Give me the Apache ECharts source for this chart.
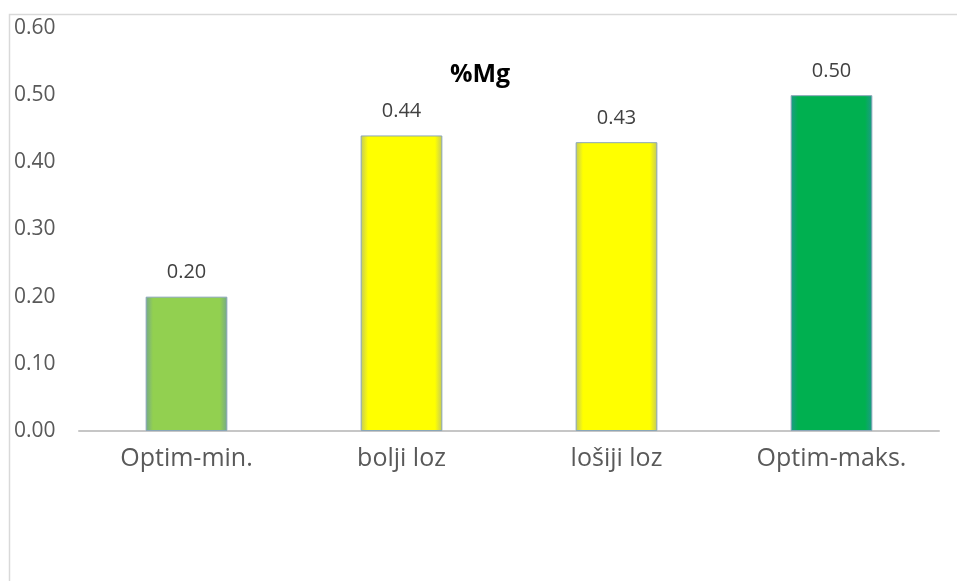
<!DOCTYPE html>
<html><head><meta charset="utf-8">
<script src="https://cdn.jsdelivr.net/npm/echarts@6/dist/echarts.min.js"></script>
<style>html,body{margin:0;padding:0;background:#fff}#c{width:957px;height:581px}</style>
</head><body><div id="c"></div>
<script>
const categories = ['Optim-min.', 'bolji loz', 'lošiji loz', 'Optim-maks.'];
const values = [0.20, 0.44, 0.43, 0.50];
const barColors = ['#92D050', '#FFFF00', '#FFFF00', '#00B050'];
const edgeColors = ['#74a88a', '#c2c860', '#c2c860', '#1e9a8a'];
const yTicks = { min: 0, max: 0.6, interval: 0.1 };

function grad(c, e) {
  return new echarts.graphic.LinearGradient(0, 0, 1, 0, [
    { offset: 0, color: e }, { offset: 0.09, color: c },
    { offset: 0.91, color: c }, { offset: 1, color: e }
  ]);
}

const chart = echarts.init(document.getElementById('c'));
chart.setOption({
  animation: false,
  title: { text: '%Mg', left: 445, top: 57,
    textStyle: { fontFamily: 'Open Sans', fontWeight: 'bold', fontSize: 25, color: '#000' } },
  graphic: [
    { type: 'polyline', shape: { points: [[9.5, 600], [9.5, 14.5], [960, 14.5]] },
      style: { stroke: '#d9d9d9', lineWidth: 1.5, fill: null } }
  ],
  grid: { left: 79, right: 18, top: 28, bottom: 150 },
  xAxis: {
    type: 'category', data: categories,
    axisLine: { lineStyle: { color: '#c6c6c6', width: 2 } },
    axisTick: { show: false },
    axisLabel: { color: '#595959', fontSize: 25, margin: 15, fontFamily: 'Open Sans' }
  },
  yAxis: {
    type: 'value', min: yTicks.min, max: yTicks.max, interval: yTicks.interval,
    axisLine: { show: false }, axisTick: { show: false }, splitLine: { show: false },
    axisLabel: { color: '#595959', fontSize: 21, fontFamily: 'Open Sans', align: 'left', margin: 65,
      formatter: v => v.toFixed(2) }
  },
  series: [{
    type: 'bar', barWidth: '38%',
    data: values.map((v, i) => ({ value: v, itemStyle: { color: grad(barColors[i], edgeColors[i]) } })),
    itemStyle: { borderColor: '#8aa6b8', borderWidth: 1 },
    label: { show: true, position: 'top', distance: 14, color: '#404040', fontSize: 20,
      fontFamily: 'Open Sans', formatter: p => p.value.toFixed(2) }
  }]
});
</script></body></html>
